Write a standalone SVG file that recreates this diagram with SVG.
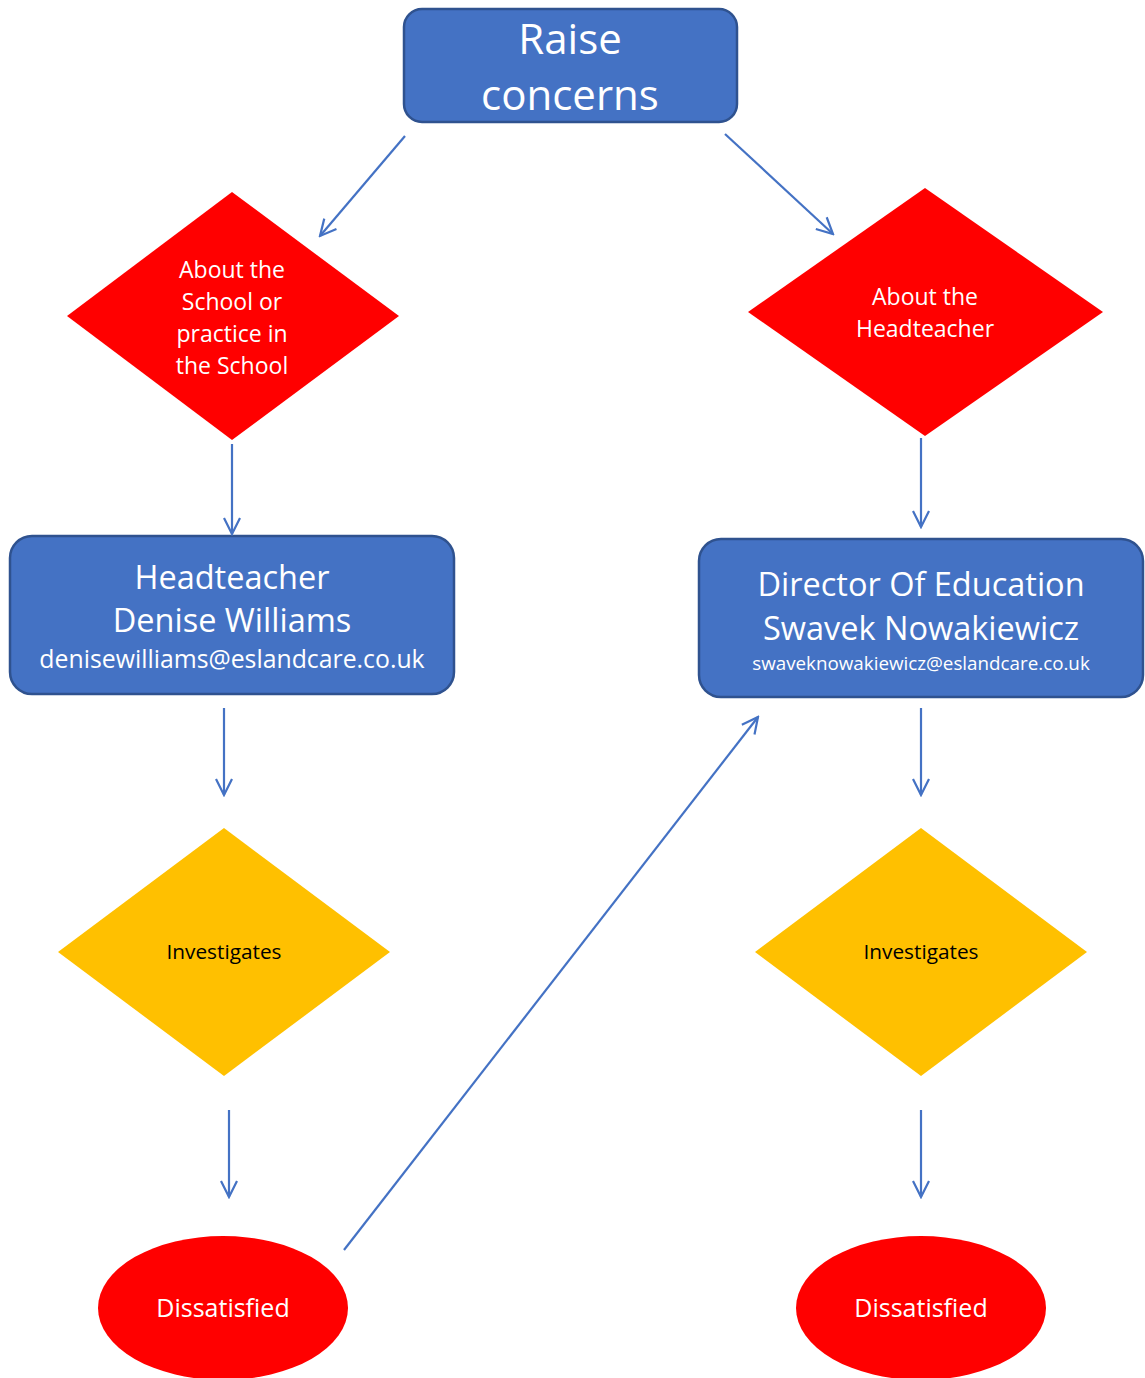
<svg xmlns="http://www.w3.org/2000/svg" width="1145" height="1378" viewBox="0 0 1145 1378">
<defs>
<marker id="arr" viewBox="0 0 20 20" refX="18" refY="10" markerWidth="20" markerHeight="20" markerUnits="userSpaceOnUse" orient="auto">
<path d="M2,2 L18,10 L2,18" fill="none" stroke="#4472C4" stroke-width="2.2"/>
</marker>
<style>
.box{fill:#4472C4;stroke:#2F528F;stroke-width:2.5}
.red{fill:#FF0000}
.yel{fill:#FFC000}
.t{font-family:"Open Sans","Lato","DejaVu Sans",sans-serif;text-anchor:middle;fill:#fff}
.k{fill:#000}
.c{stroke:#4472C4;stroke-width:2.2;fill:none;marker-end:url(#arr)}
</style>
</defs>
<rect width="1145" height="1378" fill="#fff"/>
<g id="raise">
<rect class="box" x="404" y="9" width="333" height="113" rx="18"/>
<text class="t" x="570" y="54" font-size="42">Raise</text>
<text class="t" x="570" y="110" font-size="42">concerns</text>
</g>
<g id="about-school">
<polygon class="red" points="232,192 399,316 232,440 67,316"/>
<text class="t" x="232" y="278" font-size="23">About the</text>
<text class="t" x="232" y="310" font-size="23">School or</text>
<text class="t" x="232" y="342" font-size="23">practice in</text>
<text class="t" x="232" y="374" font-size="23">the School</text>
</g>
<g id="about-head">
<polygon class="red" points="925,188 1103,312 925,436 748,312"/>
<text class="t" x="925" y="305" font-size="23">About the</text>
<text class="t" x="925" y="337" font-size="23">Headteacher</text>
</g>
<g id="headteacher">
<rect class="box" x="10" y="536" width="444" height="158" rx="22"/>
<text class="t" x="232" y="589" font-size="32.5">Headteacher</text>
<text class="t" x="232" y="632" font-size="32.5">Denise Williams</text>
<text class="t" x="232" y="668" font-size="24.8">denisewilliams@eslandcare.co.uk</text>
</g>
<g id="director">
<rect class="box" x="699" y="539" width="444" height="158" rx="22"/>
<text class="t" x="921" y="596" font-size="32.5">Director Of Education</text>
<text class="t" x="921" y="640" font-size="32.5">Swavek Nowakiewicz</text>
<text class="t" x="921" y="670" font-size="18.8">swaveknowakiewicz@eslandcare.co.uk</text>
</g>
<g id="investigates-left">
<polygon class="yel" points="224,828 390,952 224,1076 58,952"/>
<text class="t k" x="224" y="959" font-size="20.8">Investigates</text>
</g>
<g id="investigates-right">
<polygon class="yel" points="921,828 1087,952 921,1076 755,952"/>
<text class="t k" x="921" y="959" font-size="20.8">Investigates</text>
</g>
<g id="dissatisfied-left">
<ellipse class="red" cx="223" cy="1308" rx="125" ry="72"/>
<text class="t" x="223" y="1317" font-size="25">Dissatisfied</text>
</g>
<g id="dissatisfied-right">
<ellipse class="red" cx="921" cy="1308" rx="125" ry="72"/>
<text class="t" x="921" y="1317" font-size="25">Dissatisfied</text>
</g>
<g id="connectors">
<line class="c" x1="405" y1="136" x2="320" y2="236"/>
<line class="c" x1="725" y1="134" x2="833" y2="234"/>
<line class="c" x1="232" y1="444" x2="232" y2="534"/>
<line class="c" x1="921" y1="438" x2="921" y2="527"/>
<line class="c" x1="224" y1="708" x2="224" y2="795"/>
<line class="c" x1="921" y1="708" x2="921" y2="795"/>
<line class="c" x1="229" y1="1110" x2="229" y2="1197"/>
<line class="c" x1="921" y1="1110" x2="921" y2="1197"/>
<line class="c" x1="344" y1="1250" x2="758" y2="717"/>
</g>
</svg>
